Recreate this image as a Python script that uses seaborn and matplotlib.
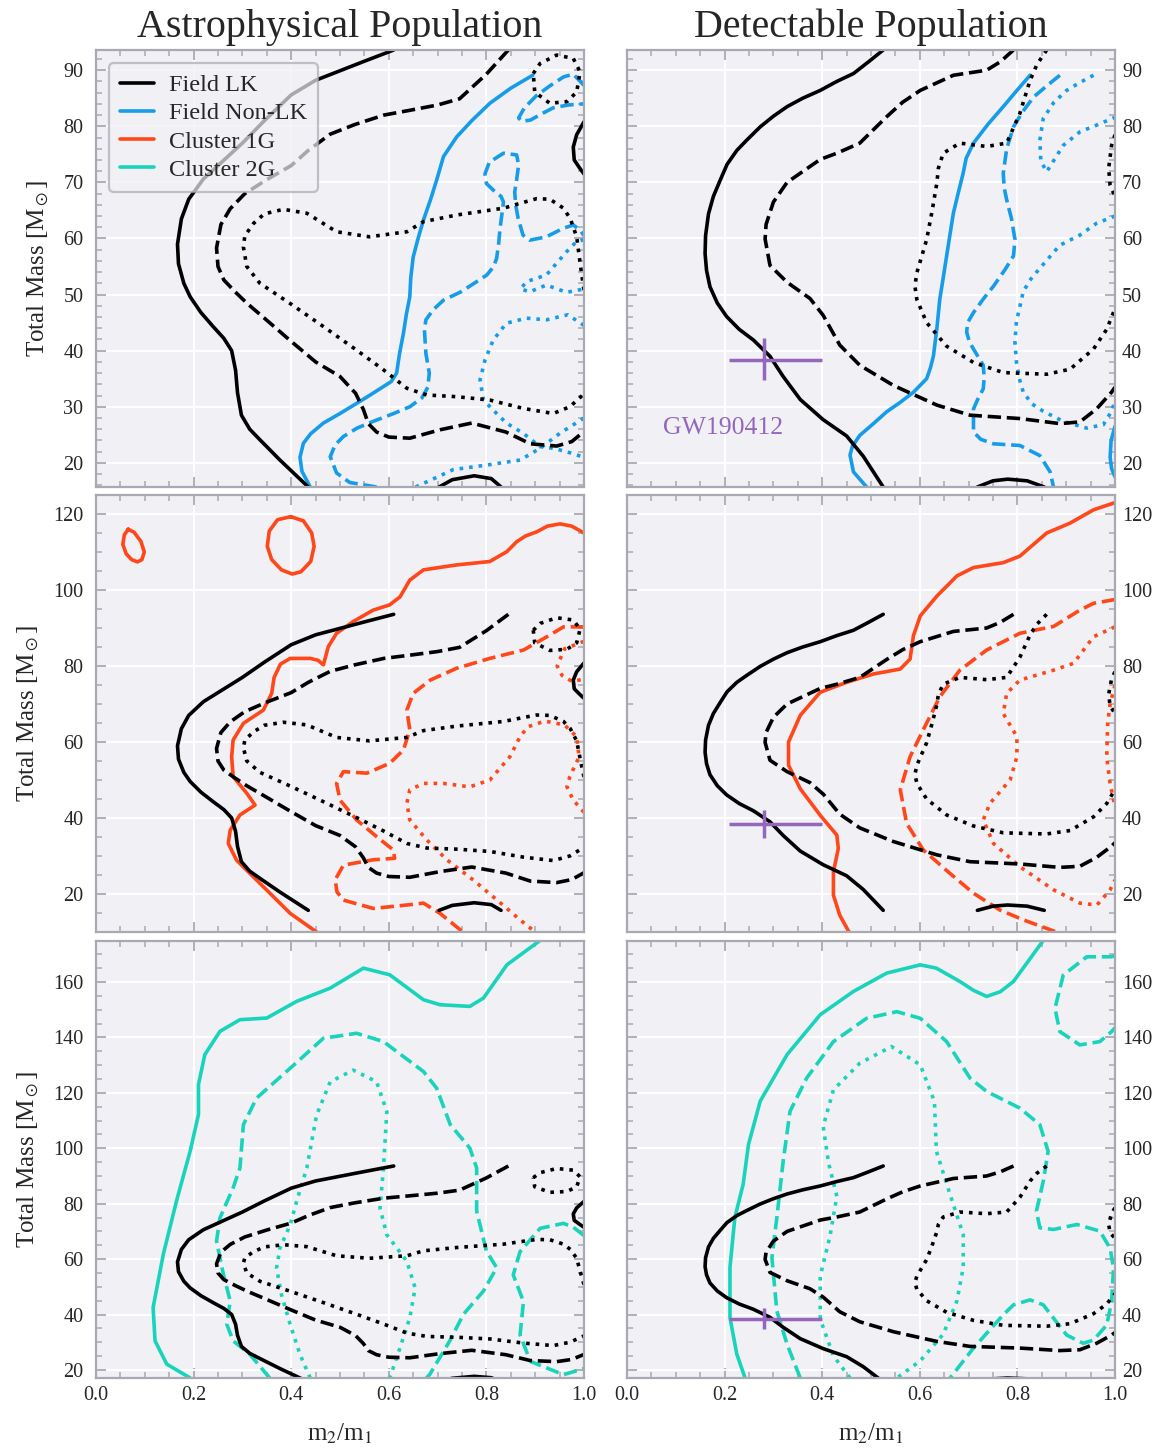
import matplotlib
matplotlib.use("Agg")
import matplotlib.pyplot as plt
from matplotlib.lines import Line2D
from matplotlib.ticker import MultipleLocator
import numpy as np
import pandas as pd
import seaborn as sns

# ---------------- data: contour paths (m2/m1, total mass) ----------------
# Field LK, astrophysical (left column)
lk_a_solid_x = [0.61, 0.55, 0.50, 0.45, 0.40, 0.345, 0.30, 0.26, 0.22, 0.19, 0.175, 0.167, 0.169, 0.180, 0.193, 0.215, 0.240, 0.262, 0.278, 0.286, 0.290, 0.298, 0.315, 0.335, 0.377, 0.435]
lk_a_solid_y = [93.6, 91.6, 89.9, 88.2, 85.6, 81.0, 77.0, 73.8, 70.6, 67.0, 63.5, 59.0, 55.5, 52.0, 49.6, 46.8, 44.3, 42.2, 40.0, 36.5, 32.5, 28.5, 26.0, 24.2, 20.5, 15.7]
lk_a_cap_x = [0.703, 0.73, 0.775, 0.81, 0.83]
lk_a_cap_y = [15.7, 17.0, 17.7, 17.2, 15.7]
lk_a_edge_x = [1.0, 0.985, 0.978, 0.98, 0.99, 1.0]
lk_a_edge_y = [80.8, 78.5, 76.3, 74.0, 72.7, 71.5]
lk_a_dash_x = [0.845, 0.80, 0.745, 0.70, 0.64, 0.59, 0.53, 0.48, 0.435, 0.40, 0.35, 0.305, 0.275, 0.256, 0.247, 0.250, 0.262, 0.285, 0.31, 0.345, 0.398, 0.45, 0.50, 0.532, 0.548, 0.558, 0.575, 0.60, 0.643, 0.705, 0.77, 0.84, 0.89, 0.944, 0.975, 1.0]
lk_a_dash_y = [93.6, 89.3, 84.9, 83.8, 82.8, 82.0, 80.3, 78.6, 75.7, 73.0, 70.5, 68.0, 65.3, 62.5, 58.3, 55.0, 52.6, 50.5, 48.4, 45.8, 41.8, 38.0, 35.4, 32.4, 29.5, 27.0, 25.5, 24.6, 24.4, 25.9, 27.1, 25.5, 23.4, 23.0, 23.8, 25.6]
lk_a_dot_x = [1.0, 0.993, 0.985, 0.972, 0.958, 0.93, 0.903, 0.87, 0.835, 0.74, 0.671, 0.637, 0.56, 0.493, 0.432, 0.384, 0.345, 0.323, 0.305, 0.302, 0.309, 0.336, 0.398, 0.466, 0.534, 0.589, 0.637, 0.678, 0.739, 0.807, 0.876, 0.937, 0.971, 1.0]
lk_a_dot_y = [50.8, 55.0, 60.3, 63.5, 65.4, 67.0, 67.1, 66.3, 65.4, 64.2, 63.0, 61.2, 60.3, 61.2, 64.5, 65.2, 64.4, 62.7, 60.5, 58.5, 55.0, 52.0, 48.4, 44.3, 40.1, 36.6, 33.3, 32.1, 31.8, 31.2, 29.7, 28.8, 30.0, 32.3]
lk_a_loop_x = [0.896, 0.91, 0.944, 0.978, 0.992, 0.985, 0.965, 0.93, 0.899, 0.896]
lk_a_loop_y = [89.4, 91.2, 92.7, 92.1, 89.7, 86.1, 84.4, 84.1, 86.1, 89.4]

# Field LK, detectable (right column)
lk_d_solid_x = [0.525, 0.495, 0.464, 0.43, 0.396, 0.36, 0.328, 0.30, 0.273, 0.245, 0.225, 0.205, 0.191, 0.177, 0.167, 0.161, 0.160, 0.163, 0.170, 0.185, 0.204, 0.23, 0.259, 0.293, 0.320, 0.355, 0.402, 0.450, 0.484, 0.525]
lk_d_solid_y = [93.6, 91.5, 89.4, 88.0, 86.4, 85.0, 83.5, 81.8, 79.9, 77.5, 75.7, 73.2, 70.4, 67.5, 64.4, 60.5, 57.3, 54.3, 51.4, 48.5, 46.1, 43.8, 41.9, 39.0, 35.4, 31.3, 27.7, 24.8, 21.2, 15.7]
lk_d_cap_x = [0.718, 0.75, 0.78, 0.82, 0.855]
lk_d_cap_y = [15.7, 16.8, 17.1, 16.8, 15.7]
lk_d_dash_x = [0.792, 0.765, 0.737, 0.669, 0.601, 0.565, 0.532, 0.477, 0.43, 0.396, 0.328, 0.30, 0.285, 0.283, 0.293, 0.328, 0.375, 0.402, 0.42, 0.436, 0.477, 0.546, 0.635, 0.703, 0.805, 0.887, 0.928, 0.962, 0.993, 1.0]
lk_d_dash_y = [93.6, 91.5, 90.0, 89.1, 86.4, 84.3, 81.7, 77.0, 75.2, 74.1, 70.0, 66.5, 62.5, 59.9, 55.2, 52.2, 49.3, 46.3, 43.5, 41.0, 37.4, 33.8, 30.3, 28.5, 27.9, 27.0, 27.3, 29.6, 32.6, 33.5]
lk_d_dot_x = [0.86, 0.84, 0.826, 0.805, 0.778, 0.737, 0.682, 0.648, 0.638, 0.635, 0.625, 0.614, 0.594, 0.590, 0.594, 0.614, 0.655, 0.710, 0.771, 0.860, 0.908, 0.956, 0.983, 1.0]
lk_d_dot_y = [93.6, 91.0, 88.2, 82.3, 77.0, 76.4, 77.0, 75.2, 72.5, 69.9, 64.8, 59.8, 53.9, 51.5, 49.1, 45.0, 40.8, 37.9, 36.1, 35.8, 36.7, 40.3, 43.8, 47.5]
lk_d_edge_x = [1.0, 0.993, 0.987, 0.99, 1.0]
lk_d_edge_y = [78.5, 76.6, 72.5, 69.5, 67.5]

# Field Non-LK
nlk_a_solid_x = [0.895, 0.85, 0.807, 0.77, 0.739, 0.712, 0.698, 0.685, 0.671, 0.660, 0.650, 0.645, 0.643, 0.636, 0.630, 0.622, 0.616, 0.605, 0.589, 0.560, 0.534, 0.500, 0.466, 0.440, 0.425, 0.418, 0.422, 0.439]
nlk_a_solid_y = [89.1, 86.8, 84.1, 81.0, 78.1, 74.6, 70.4, 66.8, 63.3, 60.0, 56.7, 53.0, 49.6, 46.5, 43.1, 39.5, 36.0, 34.5, 33.6, 32.0, 30.6, 28.8, 27.1, 25.2, 23.5, 21.0, 18.5, 15.7]
nlk_a_dash_x = [0.575, 0.52, 0.493, 0.480, 0.490, 0.507, 0.535, 0.568, 0.610, 0.643, 0.668, 0.680, 0.683, 0.676, 0.673, 0.676, 0.691, 0.712, 0.748, 0.780, 0.801, 0.815, 0.821, 0.825, 0.828, 0.835, 0.830, 0.818, 0.800, 0.797, 0.806, 0.835, 0.862, 0.866, 0.862, 0.858, 0.860, 0.865, 0.875, 0.889, 0.923, 0.957, 0.978, 0.992, 1.0]
nlk_a_dash_y = [15.7, 16.5, 18.2, 21.1, 23.2, 24.7, 26.2, 27.4, 28.8, 30.0, 31.6, 33.5, 36.0, 39.5, 43.7, 45.5, 47.3, 49.0, 50.5, 52.3, 53.5, 55.0, 56.5, 59.0, 61.8, 66.5, 67.5, 68.3, 69.8, 71.5, 73.6, 75.2, 74.9, 73.1, 70.5, 68.3, 66.0, 63.6, 60.6, 59.7, 60.3, 61.8, 62.4, 61.5, 60.5]
nlk_a_dash2_x = [1.0, 0.978, 0.958, 0.93, 0.903, 0.878, 0.866, 0.872, 0.89, 0.915, 0.937, 0.968, 1.0]
nlk_a_dash2_y = [87.3, 89.3, 88.8, 87.2, 85.5, 83.3, 81.5, 80.9, 81.1, 82.3, 83.3, 83.8, 84.0]
nlk_a_dot1_x = [1.0, 0.984, 0.964, 0.923, 0.882, 0.870, 0.889, 0.923, 0.964, 1.0]
nlk_a_dot1_y = [59.8, 59.4, 57.6, 53.5, 52.3, 51.0, 50.5, 51.7, 50.4, 51.0]
nlk_a_dot2_x = [1.0, 0.967, 0.923, 0.882, 0.841, 0.814, 0.797, 0.787, 0.794, 0.814, 0.841, 0.875, 0.910, 0.937, 0.964, 1.0]
nlk_a_dot2_y = [44.5, 46.4, 45.5, 45.8, 44.9, 41.9, 38.3, 34.8, 31.2, 29.4, 27.1, 25.3, 22.9, 22.6, 22.0, 21.0]
nlk_a_dot3_x = [0.655, 0.70, 0.732, 0.800, 0.869, 0.910, 0.951, 1.0]
nlk_a_dot3_y = [15.7, 17.5, 18.8, 19.6, 20.5, 22.6, 25.3, 28.0]

nlk_d_solid_x = [0.826, 0.80, 0.771, 0.74, 0.710, 0.695, 0.689, 0.679, 0.669, 0.662, 0.655, 0.648, 0.641, 0.635, 0.628, 0.622, 0.614, 0.587, 0.560, 0.532, 0.505, 0.477, 0.462, 0.457, 0.464, 0.491]
nlk_d_solid_y = [89.1, 86.5, 83.5, 80.4, 77.0, 74.3, 71.7, 68.2, 64.6, 60.8, 56.9, 53.0, 49.2, 44.0, 39.1, 37.0, 35.0, 32.6, 30.8, 29.1, 27.0, 24.9, 23.0, 21.4, 18.4, 15.7]
nlk_d_edge_x = [1.0, 0.992, 0.99, 0.993, 1.0]
nlk_d_edge_y = [26.5, 24.0, 21.0, 19.0, 17.5]
nlk_d_dash_x = [0.887, 0.86, 0.833, 0.81, 0.792, 0.778, 0.771, 0.773, 0.778, 0.788, 0.795, 0.792, 0.775, 0.751, 0.730, 0.710, 0.698, 0.696, 0.702, 0.710, 0.730, 0.732, 0.730, 0.718, 0.710, 0.710, 0.725, 0.751, 0.805, 0.846, 0.867, 0.874]
nlk_d_dash_y = [89.1, 87.2, 85.2, 82.5, 79.9, 76.0, 71.6, 69.0, 66.9, 63.5, 59.8, 56.9, 54.5, 51.5, 49.2, 46.8, 45.0, 43.3, 41.5, 40.3, 37.4, 35.2, 33.2, 31.2, 29.6, 25.5, 24.2, 23.4, 23.1, 21.3, 18.4, 15.7]
nlk_d_dot1_x = [0.956, 0.928, 0.901, 0.875, 0.853, 0.846, 0.848, 0.860, 0.873, 0.894, 0.928, 0.962, 1.0]
nlk_d_dot1_y = [89.1, 87.8, 86.4, 84.3, 81.4, 77.5, 73.8, 71.9, 73.7, 76.6, 79.0, 80.2, 81.6]
nlk_d_dot2_x = [1.0, 0.962, 0.928, 0.887, 0.846, 0.825, 0.812, 0.798, 0.795, 0.798, 0.804, 0.812, 0.830, 0.853, 0.894, 0.942, 0.976, 0.993, 1.0]
nlk_d_dot2_y = [64.0, 62.7, 60.6, 58.8, 54.7, 52.5, 50.5, 45.2, 41.5, 38.0, 35.0, 32.6, 30.5, 29.2, 27.4, 26.2, 26.8, 29.2, 31.0]

# Cluster 1G
c1_a_solid_x = [1.0, 0.975, 0.951, 0.925, 0.903, 0.880, 0.862, 0.842, 0.807, 0.739, 0.671, 0.643, 0.623, 0.602, 0.568, 0.527, 0.493, 0.476, 0.466, 0.455, 0.439, 0.398, 0.378, 0.365, 0.360, 0.343, 0.302, 0.281, 0.278, 0.281, 0.309, 0.326, 0.295, 0.275, 0.271, 0.288, 0.343, 0.398, 0.452]
c1_a_solid_y = [115.0, 116.8, 117.4, 116.8, 115.3, 114.2, 112.7, 110.1, 107.5, 106.6, 105.3, 102.6, 98.2, 96.1, 94.7, 91.7, 88.6, 85.1, 80.3, 81.5, 82.0, 82.0, 80.5, 77.0, 72.8, 68.4, 64.9, 60.5, 56.1, 50.9, 46.5, 43.4, 40.8, 36.8, 33.3, 28.9, 21.9, 14.9, 10.0]
c1_a_isle1_x = [0.066, 0.078, 0.092, 0.099, 0.094, 0.085, 0.073, 0.062, 0.055, 0.058, 0.066]
c1_a_isle1_y = [116.0, 115.2, 112.8, 110.0, 108.0, 107.4, 108.0, 109.5, 112.0, 114.5, 116.0]
c1_a_isle2_x = [0.399, 0.425, 0.442, 0.447, 0.440, 0.420, 0.402, 0.380, 0.360, 0.351, 0.355, 0.372, 0.399]
c1_a_isle2_y = [119.3, 118.2, 115.0, 111.5, 107.5, 104.8, 104.2, 105.3, 108.0, 111.5, 115.5, 118.5, 119.3]
c1_a_dash_x = [1.0, 0.958, 0.924, 0.876, 0.807, 0.739, 0.685, 0.650, 0.637, 0.643, 0.630, 0.602, 0.555, 0.507, 0.493, 0.500, 0.534, 0.575, 0.609, 0.612, 0.568, 0.507, 0.490, 0.494, 0.507, 0.568, 0.637, 0.671, 0.705, 0.752]
c1_a_dash_y = [90.3, 90.3, 87.7, 84.2, 82.0, 79.4, 76.3, 72.8, 68.4, 63.2, 57.9, 54.4, 51.8, 52.2, 49.1, 44.7, 39.5, 35.1, 31.6, 29.4, 29.0, 27.6, 23.7, 20.5, 18.4, 16.2, 17.1, 17.6, 14.9, 10.0]
c1_a_dot_x = [1.0, 0.978, 0.965, 0.971, 0.990, 0.985, 0.96, 0.92, 0.885, 0.869, 0.848, 0.807, 0.766, 0.712, 0.671, 0.643, 0.637, 0.643, 0.678, 0.719, 0.773, 0.821, 0.869, 0.90]
c1_a_dot_y = [41.5, 44.7, 48.2, 50.9, 56.1, 61.4, 64.5, 65.5, 64.0, 61.4, 56.1, 50.0, 48.2, 49.1, 49.1, 47.4, 43.9, 39.5, 34.2, 29.0, 23.7, 18.5, 13.2, 10.0]
c1_a_dot2_x = [1.0, 0.96, 0.945, 0.955, 0.975, 1.0]
c1_a_dot2_y = [86.5, 84.5, 80.0, 77.5, 76.0, 76.5]

c1_d_solid_x = [1.0, 0.956, 0.908, 0.860, 0.805, 0.771, 0.710, 0.676, 0.635, 0.601, 0.587, 0.580, 0.560, 0.505, 0.450, 0.396, 0.355, 0.331, 0.331, 0.355, 0.396, 0.430, 0.433, 0.423, 0.423, 0.436, 0.455]
c1_d_solid_y = [123.0, 121.1, 117.6, 115.0, 108.9, 107.2, 105.9, 103.7, 98.4, 93.2, 88.0, 81.8, 79.2, 77.9, 75.7, 73.1, 67.0, 60.0, 53.9, 47.7, 40.7, 35.5, 32.0, 25.8, 19.7, 14.4, 10.0]
c1_d_dash_x = [1.0, 0.956, 0.928, 0.874, 0.839, 0.805, 0.737, 0.682, 0.641, 0.607, 0.580, 0.560, 0.573, 0.607, 0.662, 0.710, 0.764, 0.812, 0.880]
c1_d_dash_y = [97.5, 96.5, 94.7, 90.4, 89.5, 88.6, 84.2, 78.9, 71.9, 63.2, 56.1, 47.4, 38.6, 31.6, 25.4, 20.2, 15.8, 13.2, 10.0]
c1_d_dot_x = [1.0, 0.956, 0.915, 0.874, 0.805, 0.778, 0.771, 0.799, 0.799, 0.785, 0.744, 0.730, 0.751, 0.805, 0.874, 0.928, 0.963, 0.990, 1.0]
c1_d_dot_y = [90.3, 87.7, 80.7, 78.9, 76.3, 72.8, 67.5, 61.4, 56.1, 50.0, 43.9, 39.5, 33.3, 27.2, 21.1, 17.6, 17.1, 21.1, 23.7]
c1_d_dot2_x = [1.0, 0.99, 0.985, 0.983, 0.99, 1.0]
c1_d_dot2_y = [75.0, 70.0, 64.9, 56.1, 49.0, 43.0]

# Cluster 2G
c2_a_solid_x = [0.91, 0.842, 0.794, 0.766, 0.705, 0.671, 0.602, 0.548, 0.480, 0.411, 0.350, 0.295, 0.254, 0.223, 0.210, 0.210, 0.193, 0.165, 0.138, 0.117, 0.121, 0.145, 0.193]
c2_a_solid_y = [175.0, 166.2, 154.2, 151.2, 151.8, 153.6, 162.6, 165.0, 157.8, 153.0, 147.0, 146.4, 142.2, 133.8, 123.0, 112.2, 99.0, 81.0, 61.8, 42.5, 30.5, 22.1, 17.1]
c2_a_dash_x = [0.356, 0.315, 0.281, 0.268, 0.275, 0.261, 0.247, 0.254, 0.281, 0.295, 0.302, 0.329, 0.398, 0.466, 0.534, 0.589, 0.671, 0.698, 0.726, 0.766, 0.780, 0.780, 0.800, 0.821, 0.794, 0.753, 0.725, 0.684, 0.677]
c2_a_dash_y = [17.1, 25.7, 30.5, 36.5, 44.9, 54.5, 66.5, 74.9, 85.7, 92.9, 108.5, 118.1, 128.9, 139.7, 141.5, 138.5, 127.7, 121.7, 108.5, 100.1, 92.9, 77.3, 62.9, 56.9, 48.5, 40.1, 30.5, 18.4, 17.1]
c2_a_dash2_x = [1.0, 0.978, 0.958, 0.910, 0.869, 0.855, 0.876, 0.869, 0.890, 0.958, 1.0]
c2_a_dash2_y = [68.5, 71.5, 72.9, 71.1, 62.7, 54.3, 44.7, 32.7, 23.1, 18.3, 20.5]
c2_a_dot_x = [0.439, 0.418, 0.398, 0.380, 0.370, 0.377, 0.398, 0.411, 0.432, 0.452, 0.480, 0.527, 0.575, 0.596, 0.589, 0.582, 0.596, 0.637, 0.654, 0.643, 0.623, 0.602]
c2_a_dot_y = [17.1, 25.6, 36.4, 47.2, 56.8, 64.0, 72.4, 80.8, 92.9, 112.0, 124.0, 128.2, 124.0, 113.2, 92.9, 78.4, 68.8, 59.2, 49.6, 38.8, 28.0, 17.1]

c2_d_solid_x = [0.853, 0.792, 0.765, 0.737, 0.710, 0.682, 0.634, 0.601, 0.532, 0.464, 0.396, 0.328, 0.273, 0.249, 0.238, 0.221, 0.211, 0.211, 0.225, 0.242]
c2_d_solid_y = [175.0, 160.2, 156.5, 154.8, 157.0, 160.2, 165.0, 166.2, 163.2, 156.6, 148.2, 133.8, 117.0, 101.4, 87.0, 75.0, 57.0, 38.9, 25.7, 17.1]
c2_d_dash_x = [0.355, 0.328, 0.307, 0.297, 0.307, 0.320, 0.334, 0.368, 0.423, 0.491, 0.553, 0.601, 0.655, 0.703, 0.737, 0.805, 0.846, 0.863, 0.853, 0.839, 0.846, 0.874, 0.922, 0.969, 0.990, 0.997, 0.993, 0.983, 0.956, 0.935, 0.901, 0.874, 0.853, 0.826, 0.792, 0.771, 0.710, 0.662]
c2_d_dash_y = [17.1, 29.3, 41.3, 60.5, 74.9, 95.3, 113.3, 125.3, 138.5, 146.9, 149.3, 146.9, 138.5, 125.3, 120.5, 114.5, 108.5, 98.9, 88.1, 77.3, 71.3, 70.7, 72.5, 70.1, 63.9, 56.7, 44.6, 36.2, 30.8, 29.6, 32.6, 38.7, 43.5, 45.3, 43.5, 39.9, 27.9, 17.1]
c2_d_dash2_x = [1.0, 0.993, 0.942, 0.894, 0.877, 0.887, 0.928, 0.969, 0.993, 1.0]
c2_d_dash2_y = [169.5, 169.1, 169.1, 162.5, 150.5, 142.1, 137.3, 138.5, 142.1, 143.5]
c2_d_dot_x = [0.457, 0.423, 0.396, 0.396, 0.416, 0.430, 0.413, 0.402, 0.423, 0.477, 0.542, 0.601, 0.630, 0.634, 0.662, 0.689, 0.689, 0.676, 0.648, 0.601, 0.553]
c2_d_dot_y = [17.1, 25.1, 38.3, 53.9, 68.3, 82.7, 94.7, 107.9, 121.1, 130.7, 136.7, 130.1, 116.9, 98.9, 83.3, 68.9, 56.9, 44.9, 32.9, 23.3, 17.1]

# GW190412
gw_q = 0.28
gw_q_err = [0.07, 0.12]
gw_mtot = 38.4
gw_mtot_err = [3.7, 3.8]

legend_labels = ["Field LK", "Field Non-LK", "Cluster 1G", "Cluster 2G"]
col_titles = ["Astrophysical Population", "Detectable Population"]
row_ylims = [(15.7, 93.6), (10.0, 125.0), (17.1, 174.8)]
row_ymajor = [10, 20, 20]
row_yminor = [2, 5, 5]

# ---------------- style ----------------
BLACK = "#000000"
BLUE = "#169ce8"
ORANGE = "#ff471a"
TEAL = "#19d3bb"
PURPLE = "#9467bd"
BG = "#f0f0f5"
EDGE = "#a9a9b3"
LW = 2.6

sns.set_theme(style="darkgrid", rc={
    "axes.facecolor": BG,
    "axes.edgecolor": EDGE,
    "axes.linewidth": 1.6,
    "grid.color": "white",
    "grid.linewidth": 1.4,
})
plt.rcParams["font.family"] = ["Liberation Serif", "DejaVu Serif"]
plt.rcParams["mathtext.fontset"] = "stix"

W, H = 1167, 1448
fig = plt.figure(figsize=(W / 100, H / 100), dpi=100)

col_px = [(96, 584), (627, 1115)]
row_px = [(50, 487), (495, 932), (941, 1378)]


def rect(xp, yp):
    x0, x1 = xp
    y0, y1 = yp
    return [x0 / W, 1 - y1 / H, (x1 - x0) / W, (y1 - y0) / H]


def draw(ax, xs, ys, color, ls):
    df = pd.DataFrame({"q": xs, "m": ys})
    sns.lineplot(data=df, x="q", y="m", sort=False, estimator=None, ax=ax,
                 color=color, linestyle=ls, linewidth=LW, legend=False)


lk_paths = [
    [(lk_a_solid_x, lk_a_solid_y, "-"), (lk_a_cap_x, lk_a_cap_y, "-"), (lk_a_edge_x, lk_a_edge_y, "-"),
     (lk_a_dash_x, lk_a_dash_y, "--"), (lk_a_dot_x, lk_a_dot_y, ":"), (lk_a_loop_x, lk_a_loop_y, ":")],
    [(lk_d_solid_x, lk_d_solid_y, "-"), (lk_d_cap_x, lk_d_cap_y, "-"),
     (lk_d_dash_x, lk_d_dash_y, "--"), (lk_d_dot_x, lk_d_dot_y, ":"), (lk_d_edge_x, lk_d_edge_y, ":")],
]

pop_paths = [
    # row 0: Field Non-LK
    [[(nlk_a_solid_x, nlk_a_solid_y, "-"), (nlk_a_dash_x, nlk_a_dash_y, "--"), (nlk_a_dash2_x, nlk_a_dash2_y, "--"),
      (nlk_a_dot1_x, nlk_a_dot1_y, ":"), (nlk_a_dot2_x, nlk_a_dot2_y, ":"), (nlk_a_dot3_x, nlk_a_dot3_y, ":")],
     [(nlk_d_solid_x, nlk_d_solid_y, "-"), (nlk_d_edge_x, nlk_d_edge_y, "-"), (nlk_d_dash_x, nlk_d_dash_y, "--"),
      (nlk_d_dot1_x, nlk_d_dot1_y, ":"), (nlk_d_dot2_x, nlk_d_dot2_y, ":")]],
    # row 1: Cluster 1G
    [[(c1_a_solid_x, c1_a_solid_y, "-"), (c1_a_isle1_x, c1_a_isle1_y, "-"), (c1_a_isle2_x, c1_a_isle2_y, "-"),
      (c1_a_dash_x, c1_a_dash_y, "--"), (c1_a_dot_x, c1_a_dot_y, ":"), (c1_a_dot2_x, c1_a_dot2_y, ":")],
     [(c1_d_solid_x, c1_d_solid_y, "-"), (c1_d_dash_x, c1_d_dash_y, "--"),
      (c1_d_dot_x, c1_d_dot_y, ":"), (c1_d_dot2_x, c1_d_dot2_y, ":")]],
    # row 2: Cluster 2G
    [[(c2_a_solid_x, c2_a_solid_y, "-"), (c2_a_dash_x, c2_a_dash_y, "--"), (c2_a_dash2_x, c2_a_dash2_y, "--"),
      (c2_a_dot_x, c2_a_dot_y, ":")],
     [(c2_d_solid_x, c2_d_solid_y, "-"), (c2_d_dash_x, c2_d_dash_y, "--"), (c2_d_dash2_x, c2_d_dash2_y, "--"),
      (c2_d_dot_x, c2_d_dot_y, ":")]],
]
pop_colors = [BLUE, ORANGE, TEAL]

for r in range(3):
    for c in range(2):
        ax = fig.add_axes(rect(col_px[c], row_px[r]))
        for xs, ys, ls in pop_paths[r][c]:
            draw(ax, xs, ys, pop_colors[r], ls)
        for xs, ys, ls in lk_paths[c]:
            draw(ax, xs, ys, BLACK, ls)
        if c == 1:
            ax.errorbar([gw_q], [gw_mtot], xerr=[[gw_q_err[0]], [gw_q_err[1]]],
                        yerr=[[gw_mtot_err[0]], [gw_mtot_err[1]]], fmt="none",
                        ecolor=PURPLE, elinewidth=2.5, capsize=0, zorder=5)
            if r == 0:
                ax.text(0.073, 26.3, "GW190412", color=PURPLE, fontsize=18.5,
                        ha="left", va="center")
        ax.set_xlim(0, 1)
        ax.set_ylim(*row_ylims[r])
        ax.xaxis.set_major_locator(MultipleLocator(0.2))
        ax.xaxis.set_minor_locator(MultipleLocator(0.05))
        ax.yaxis.set_major_locator(MultipleLocator(row_ymajor[r]))
        ax.yaxis.set_minor_locator(MultipleLocator(row_yminor[r]))
        ax.grid(True, which="major", color="white", linewidth=1.4)
        ax.grid(False, which="minor")
        ax.tick_params(which="both", direction="in", top=True, bottom=True,
                       left=True, right=True, color=EDGE, labelsize=14.5)
        ax.tick_params(which="major", length=7, width=1.3)
        ax.tick_params(which="minor", length=4, width=1.1)
        ax.tick_params(axis="x", pad=6)
        if c == 0:
            ax.tick_params(axis="y", labelleft=True, labelright=False, pad=9)
            ax.set_ylabel(r"Total Mass [M$_\odot$]", fontsize=18, labelpad=9)
        else:
            ax.tick_params(axis="y", labelleft=False, labelright=True, pad=5)
            ax.set_ylabel("")
        if r == 2:
            ax.set_xlabel(r"m$_2$/m$_1$", fontsize=18, labelpad=12)
        else:
            ax.set_xlabel("")
            ax.tick_params(axis="x", labelbottom=False)
        if r == 0:
            ax.set_title(col_titles[c], fontsize=28.8, pad=9)
        for sp in ax.spines.values():
            sp.set_visible(True)
            sp.set_color(EDGE)
            sp.set_linewidth(1.6)
        if r == 0 and c == 0:
            handles = [Line2D([0], [0], color=col, lw=LW) for col in [BLACK, BLUE, ORANGE, TEAL]]
            leg = ax.legend(handles, legend_labels, loc="upper left", fontsize=17.5,
                            frameon=True, fancybox=True, framealpha=0.7,
                            facecolor=BG, edgecolor=EDGE, labelspacing=0.25,
                            handlelength=1.4, handletextpad=0.6, borderpad=0.45,
                            borderaxespad=0.55)
            leg.get_frame().set_linewidth(1.6)

fig.savefig("out.png", dpi=100)
